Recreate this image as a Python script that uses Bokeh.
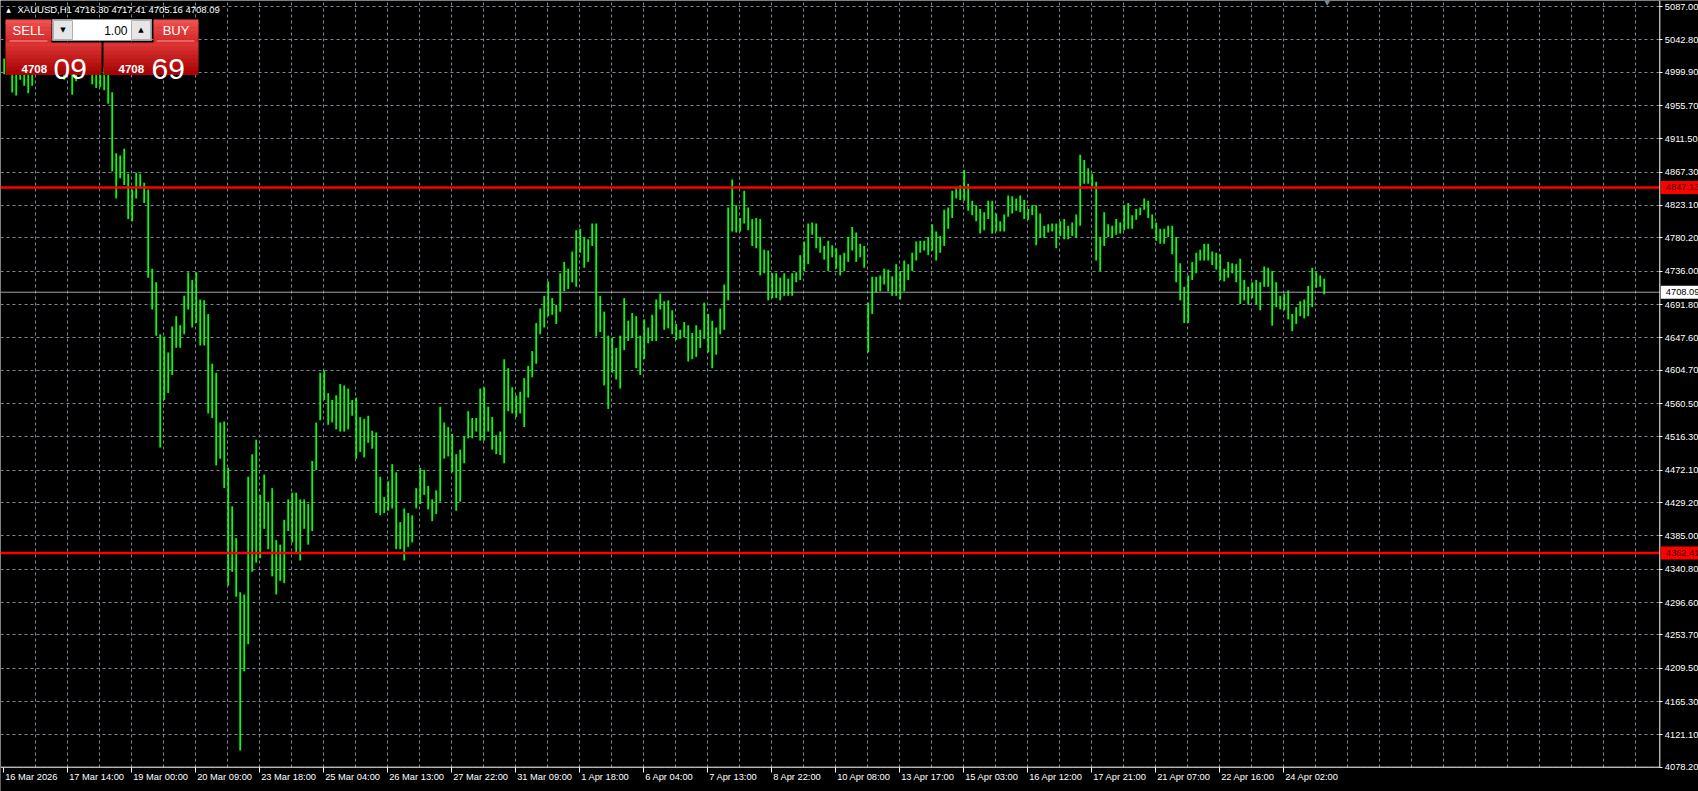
from bokeh.plotting import figure
from bokeh.models import (Range1d, FixedTicker, Label, BoxAnnotation, Grid, LinearAxis,
                          NumeralTickFormatter, ColumnDataSource)
from bokeh.embed import file_html
from bokeh.resources import INLINE

# ---------------- data ----------------
symbol = "XAUUSD,H1"
last_ohlc = ["4716.30", "4717.41", "4705.16", "4708.09"]
bid_big, bid_small = "09", "4708"
ask_big, ask_small = "69", "4708"
lot_size = "1.00"
current_price = 4708.09
resistance = 4847.13
support = 4362.41

time_labels = ["16 Mar 2026", "17 Mar 14:00", "19 Mar 00:00", "20 Mar 09:00", "23 Mar 18:00",
               "25 Mar 04:00", "26 Mar 13:00", "27 Mar 22:00", "31 Mar 09:00", "1 Apr 18:00",
               "6 Apr 04:00", "7 Apr 13:00", "8 Apr 22:00", "10 Apr 08:00", "13 Apr 17:00",
               "15 Apr 03:00", "16 Apr 12:00", "17 Apr 21:00", "21 Apr 07:00", "22 Apr 16:00",
               "24 Apr 02:00"]

price_ticks = [5087.00, 5042.80, 4999.90, 4955.70, 4911.50, 4867.30, 4823.10, 4780.20,
               4736.00, 4691.80, 4647.60, 4604.70, 4560.50, 4516.30, 4472.10, 4429.20,
               4385.00, 4340.80, 4296.60, 4253.70, 4209.50, 4165.30, 4121.10, 4078.20]

# H1 bars read in pairs (each entry = high / low of two consecutive hourly bars)
bar_high = [
    5018, 5020, 5015, 5012, 5016, 5018, 5010, 5015, 5022, 5025,
    5028, 5024, 5020, 5022, 5018, 5015, 5020, 5012, 5014, 5020,
    5018, 5016, 5012, 5010, 5008, 5006, 5000, 4973.3, 4892.3, 4889.3,
    4898.3, 4865.3, 4844.3, 4866.5, 4865.3, 4853.3, 4844.3, 4739.3, 4721.3, 4652.3,
    4649.3, 4628.3, 4662.5, 4676.3, 4664.3, 4703.3, 4734.5, 4724.3, 4734.5, 4698.5,
    4697.3, 4679.3, 4613.3, 4601.3, 4535.3, 4536.5, 4475.3, 4424.3, 4382.3, 4310.3,
    4307.3, 4463.3, 4493.3, 4512.5, 4439.3, 4466.3, 4430.3, 4448.3, 4379.3, 4373.3,
    4406.3, 4433.3, 4442.3, 4442.3, 4433.3, 4433.3, 4427.3, 4484.3, 4535.3, 4601.3,
    4604.3, 4574.3, 4565.3, 4571.3, 4586.3, 4584.5, 4580.3, 4565.3, 4568.3, 4542.5,
    4540.1, 4544.3, 4524.5, 4522.1, 4463.3, 4436.3, 4457.3, 4480.1, 4469.3, 4403.3,
    4421.3, 4415.3, 4412.3, 4448.3, 4475.3, 4472.3, 4451.3, 4433.3, 4445.3, 4556.3,
    4535.3, 4529.3, 4520.3, 4493.3, 4499.3, 4517.3, 4550.3, 4541.3, 4541.3, 4580.3,
    4582.1, 4556.3, 4542.5, 4518.5, 4523.3, 4619.3, 4607.3, 4582.1, 4571.3, 4576.1,
    4594.1, 4610.3, 4630.1, 4667.3, 4686.5, 4703.3, 4722.5, 4700.3, 4691.3, 4733.3,
    4748.3, 4739.3, 4762.1, 4790.3, 4792.1, 4781.3, 4778.3, 4799.3, 4799.3, 4703.3,
    4682.3, 4650.5, 4648.1, 4634.3, 4650.5, 4700.3, 4670.3, 4680.5, 4676.3, 4650.5,
    4672.1, 4661.3, 4678.1, 4698.5, 4706.3, 4696.1, 4697.3, 4684.1, 4666.1, 4658.3,
    4668.5, 4664.3, 4654.1, 4664.3, 4658.3, 4694.3, 4679.3, 4670.3, 4661.3, 4686.5,
    4718.3, 4820.3, 4857.5, 4823.3, 4806.5, 4842.5, 4820.3, 4805.3, 4806.5, 4805.3,
    4764.5, 4763.3, 4733.3, 4733.3, 4727.3, 4733.3, 4726.1, 4733.3, 4734.5, 4757.3,
    4775.3, 4799.3, 4800.5, 4799.3, 4781.3, 4769.3, 4776.5, 4770.5, 4766.3, 4757.3,
    4760.3, 4781.3, 4794.5, 4787.3, 4772.3, 4769.3, 4694.3, 4728.5, 4728.5, 4730.3,
    4739.3, 4738.1, 4729.1, 4745.3, 4736.3, 4750.1, 4745.3, 4760.3, 4775.3, 4776.5,
    4776.5, 4781.3, 4798.1, 4788.5, 4782.5, 4817.3, 4820.3, 4842.5, 4847.3, 4849.7,
    4870.1, 4852.1, 4829.3, 4823.3, 4818.5, 4814.3, 4829.3, 4829.3, 4812.5, 4802.3,
    4811.3, 4836.5, 4835.3, 4832.3, 4836.5, 4830.5, 4818.5, 4823.3, 4823.3, 4812.5,
    4796.3, 4798.1, 4799.3, 4799.3, 4802.3, 4805.3, 4796.3, 4800.5, 4811.3, 4890.5,
    4883.3, 4872.5, 4865.3, 4854.5, 4781.3, 4814.3, 4798.1, 4796.3, 4805.3, 4800.5,
    4823.3, 4826.3, 4810.1, 4818.5, 4820.3, 4832.3, 4829.3, 4811.3, 4800.5, 4792.1,
    4792.1, 4796.3, 4796.3, 4781.3, 4746.5, 4715.3, 4730.3, 4748.3, 4760.3, 4764.5,
    4772.3, 4772.3, 4762.1, 4760.3, 4758.5, 4739.3, 4748.3, 4746.5, 4745.3, 4752.5,
    4724.3, 4715.3, 4721.3, 4724.3, 4721.3, 4742.3, 4740.5, 4736.3, 4721.3, 4703.3,
    4706.3, 4710.5, 4679.3, 4688.3, 4696.1, 4698.5, 4716.5, 4740.5, 4734.5, 4730.3,
    4726.1,
]
bar_low = [
    4997, 5000, 4973, 4969, 4990, 4982, 4972, 4982, 4998, 5000,
    5002, 5000, 4998, 5000, 4996, 4990, 4997, 4970, 4988, 4998,
    4997, 4996, 4984, 4979, 4980, 4976, 4958, 4868.3, 4832.3, 4859.3,
    4850.3, 4805.3, 4802.3, 4832.3, 4847.3, 4826.3, 4727.3, 4685.3, 4650.5, 4502.3,
    4565.3, 4574.3, 4598.3, 4634.3, 4634.3, 4652.3, 4685.3, 4661.3, 4667.3, 4637.3,
    4637.3, 4547.3, 4541.3, 4478.3, 4487.3, 4448.3, 4319.3, 4337.3, 4304.3, 4100.3,
    4205.3, 4241.3, 4337.3, 4349.3, 4355.3, 4394.3, 4367.3, 4331.3, 4307.3, 4325.3,
    4322.3, 4391.3, 4376.3, 4361.3, 4352.3, 4394.3, 4373.3, 4391.3, 4472.3, 4538.3,
    4565.3, 4532.3, 4535.3, 4526.3, 4523.3, 4523.3, 4526.3, 4544.3, 4487.3, 4496.3,
    4489.1, 4508.3, 4500.5, 4415.3, 4412.3, 4415.3, 4418.3, 4421.3, 4367.3, 4367.3,
    4352.3, 4370.3, 4376.3, 4421.3, 4427.3, 4439.3, 4420.1, 4404.5, 4414.1, 4430.3,
    4487.3, 4490.3, 4469.3, 4418.3, 4430.3, 4481.3, 4514.3, 4514.3, 4523.3, 4511.3,
    4511.3, 4523.3, 4499.3, 4493.3, 4492.1, 4481.3, 4550.3, 4547.3, 4542.5, 4547.3,
    4529.3, 4568.3, 4595.3, 4613.3, 4652.3, 4661.3, 4676.3, 4678.1, 4666.1, 4682.3,
    4709.3, 4712.3, 4721.3, 4715.3, 4760.3, 4740.5, 4748.3, 4769.3, 4649.3, 4655.3,
    4584.5, 4553.3, 4601.3, 4592.3, 4580.3, 4631.3, 4643.3, 4648.1, 4607.3, 4598.3,
    4619.3, 4640.3, 4643.3, 4643.3, 4685.3, 4658.3, 4660.1, 4652.3, 4644.5, 4646.3,
    4648.1, 4616.3, 4619.3, 4622.3, 4634.3, 4646.3, 4628.3, 4607.3, 4625.3, 4652.3,
    4658.3, 4697.3, 4788.5, 4787.3, 4788.5, 4799.3, 4790.3, 4769.3, 4766.3, 4730.3,
    4733.3, 4697.3, 4700.3, 4700.3, 4697.3, 4703.3, 4703.3, 4703.3, 4721.3, 4724.3,
    4736.3, 4745.3, 4784.3, 4766.3, 4760.3, 4751.3, 4736.3, 4754.3, 4739.3, 4730.3,
    4736.3, 4748.3, 4763.3, 4748.3, 4754.3, 4740.5, 4628.3, 4679.3, 4708.1, 4709.3,
    4718.3, 4709.3, 4703.3, 4703.3, 4698.5, 4709.3, 4724.3, 4736.3, 4750.1, 4760.3,
    4763.3, 4757.3, 4763.3, 4750.1, 4760.3, 4769.3, 4792.1, 4806.5, 4832.3, 4830.5,
    4829.3, 4816.1, 4810.1, 4802.3, 4786.1, 4790.3, 4805.3, 4786.1, 4788.5, 4788.5,
    4788.5, 4808.3, 4812.5, 4816.1, 4814.3, 4805.3, 4804.1, 4810.1, 4770.5, 4780.1,
    4780.1, 4787.3, 4788.5, 4766.3, 4782.5, 4778.3, 4778.3, 4782.5, 4780.1, 4796.3,
    4852.1, 4852.1, 4848.5, 4750.1, 4736.3, 4769.3, 4781.3, 4780.1, 4784.3, 4786.1,
    4790.3, 4792.1, 4792.1, 4804.1, 4810.1, 4817.3, 4806.5, 4792.1, 4776.5, 4772.3,
    4772.3, 4781.3, 4758.5, 4721.3, 4697.3, 4667.3, 4667.3, 4724.3, 4733.3, 4750.1,
    4750.1, 4750.1, 4744.1, 4738.1, 4724.3, 4722.5, 4727.3, 4733.3, 4721.3, 4692.5,
    4697.3, 4691.3, 4700.3, 4691.3, 4684.1, 4715.3, 4715.3, 4663.7, 4688.3, 4685.3,
    4684.1, 4672.1, 4656.5, 4666.1, 4676.3, 4673.3, 4676.3, 4688.3, 4714.1, 4715.3,
    4705.2,
]

# ---------------- layout constants (pixels) ----------------
W, H = 1698, 791
PX_FIRST_BAR = 2.7       # canvas x of the first hourly bar
PX_PER_HOUR = 2.0
PX_BORDER_X = 1659.3     # canvas x of the right chart border
PX_TOP_TICK = 6.0        # canvas y of the top price tick
PX_BORDER_Y = 766.7      # canvas y of the bottom chart border
HOURS_PER_ENTRY = 2
HOURS_PER_LABEL = 32
HOURS_PER_GRID = 16
FONT = "Liberation Sans"
GRID = "#778899"
GREEN = "#00ff00"

# derived scales
kx = PX_PER_HOUR
x_start = -PX_FIRST_BAR / kx
x_end = x_start + W / kx
X_BORDER = x_start + PX_BORDER_X / kx
ky = (PX_BORDER_Y - PX_TOP_TICK) / (price_ticks[0] - price_ticks[-1])
y_end = price_ticks[0] + PX_TOP_TICK / ky
y_start = y_end - H / ky
Y_BORDER = y_end - PX_BORDER_Y / ky

n = len(bar_high)
xs = [HOURS_PER_ENTRY * i + 0.5 for i in range(n)]
src = ColumnDataSource(dict(x=xs, high=bar_high, low=bar_low))

p = figure(width=W, height=H, x_range=Range1d(x_start, x_end), y_range=Range1d(y_start, y_end),
           output_backend="svg", toolbar_location=None, x_axis_type=None, y_axis_type=None,
           min_border_left=0, min_border_top=0, min_border_bottom=0, min_border_right=0,
           background_fill_color="black", border_fill_color="black", outline_line_color=None)

# grid
label_ticks = [HOURS_PER_LABEL * k for k in range(len(time_labels))]
grid_ticks = [HOURS_PER_GRID * k for k in range(1, int(X_BORDER // HOURS_PER_GRID) + 1)]
for dim, ticks in ((0, grid_ticks), (1, price_ticks)):
    p.add_layout(Grid(dimension=dim, ticker=FixedTicker(ticks=ticks), grid_line_color=GRID,
                      grid_line_dash="3 3", grid_line_width=1))
# keep the scale strips free of grid lines
p.add_layout(BoxAnnotation(left=X_BORDER, right=x_end, bottom=y_start, top=y_end, level="underlay",
                           fill_color="black", fill_alpha=1, line_alpha=0))
p.add_layout(BoxAnnotation(left=x_start, right=x_end, bottom=y_start, top=Y_BORDER, level="underlay",
                           fill_color="black", fill_alpha=1, line_alpha=0))

# price axis on the right border
yax = LinearAxis(fixed_location=X_BORDER, ticker=FixedTicker(ticks=price_ticks),
                 formatter=NumeralTickFormatter(format="0.00"), bounds=(Y_BORDER, y_end),
                 axis_line_color=None, major_tick_out=3, major_tick_in=0,
                 minor_tick_out=0, minor_tick_in=0, major_tick_line_color="white",
                 major_label_text_color="white", major_label_text_font=FONT,
                 major_label_text_font_size="9.3px", major_label_standoff=2)
p.add_layout(yax, "right")

# time axis (tick marks) on the bottom border
xax = LinearAxis(fixed_location=Y_BORDER, ticker=FixedTicker(ticks=label_ticks),
                 bounds=(x_start, X_BORDER), axis_line_color=None, major_tick_out=5,
                 major_tick_in=0, minor_tick_out=0, minor_tick_in=0,
                 major_tick_line_color="white", major_label_overrides={t: "" for t in label_ticks})
p.add_layout(xax, "below")

# bars
p.segment(x0="x", y0="low", x1="x", y1="high", source=src, line_color=GREEN, line_width=1.8)

# horizontal levels
p.segment(x0=[x_start], y0=[current_price], x1=[X_BORDER], y1=[current_price],
          line_color="#a0a4a8", line_width=1)
p.segment(x0=[x_start, x_start], y0=[resistance, support], x1=[X_BORDER, X_BORDER],
          y1=[resistance, support], line_color="#ff0000", line_width=2.5)

# chart border (right and bottom)
p.segment(x0=[X_BORDER, x_start], y0=[Y_BORDER, Y_BORDER], x1=[X_BORDER, X_BORDER],
          y1=[y_end, Y_BORDER], line_color="white", line_width=1)

# price tags in the scale
half = 6.5 / ky
for lvl, bg, fg in ((resistance, "#ff0000", "#3a0000"), (support, "#ff0000", "#3a0000"),
                    (current_price, "#ffffff", "#000000")):
    p.add_layout(BoxAnnotation(left=X_BORDER + 1 / kx, right=x_end, bottom=lvl - half, top=lvl + half,
                               fill_color=bg, fill_alpha=1, line_alpha=0))
    p.add_layout(Label(x=X_BORDER + 6 / kx, y=lvl, text=f"{lvl:.2f}", text_font=FONT,
                       text_font_size="9.3px", text_color=fg, text_baseline="middle",
                       text_align="left"))

# time labels, left aligned at their tick
for t, s in zip(label_ticks, time_labels):
    p.add_layout(Label(x=t + 2 / kx, y=Y_BORDER - 4.5 / ky, text=s, text_font=FONT,
                       text_font_size="9.3px", text_color="white", text_align="left",
                       text_baseline="top"))

# chart shift marker at the top
p.scatter(x=[HOURS_PER_ENTRY * n], y=[y_end], marker="inverted_triangle", size=9,
          fill_color=GRID, line_color=None)


# ---------------- title and one-click trading panel (screen pixels from top-left) ----------------
def box(x0, y0, x1, y1, color, line=None):
    p.add_layout(BoxAnnotation(left=x0, right=x1, top=H - y0, bottom=H - y1,
                               left_units="screen", right_units="screen",
                               top_units="screen", bottom_units="screen",
                               fill_color=color, fill_alpha=1.0,
                               line_color=line, line_alpha=1.0 if line else 0.0))


def mix(c1, c2, t):
    a = [int(c1[i:i + 2], 16) for i in (1, 3, 5)]
    b = [int(c2[i:i + 2], 16) for i in (1, 3, 5)]
    return "#" + "".join(f"{round(u + (v - u) * t):02x}" for u, v in zip(a, b))


def grad(x0, y0, x1, y1, c_top, c_bot, steps):
    h = (y1 - y0) / steps
    for i in range(steps):
        box(x0, y0 + i * h, x1, y0 + (i + 1) * h + 0.6, mix(c_top, c_bot, i / (steps - 1)))


def txt(x, y, s, size, color="white", align="left", bold=False, font=FONT, base="alphabetic"):
    p.add_layout(Label(x=x, y=H - y, x_units="screen", y_units="screen", text=s,
                       text_font=font, text_font_size=size, text_color=color,
                       text_align=align, text_baseline=base,
                       text_font_style="bold" if bold else "normal"))


txt(8, 9, "▲", "6px", font="DejaVu Sans", align="center", base="middle")
txt(17, 8.5, symbol + "  " + " ".join(last_ohlc), "9.5px", base="middle")

for xa, xb in ((5, 51), (153, 198)):
    grad(xa, 19, xb, 42, "#f05050", "#d42a2a", 6)
for xa, xb in ((5, 101), (103, 198)):
    grad(xa, 42, xb, 74, "#dc3434", "#a80404", 8)
box(9, 40, 47, 41, "#f4a0a0")
box(156, 40, 194, 41, "#f4a0a0")

box(52, 19, 151, 40, "#ffffff", "#9a9a9a")
box(53, 20, 72, 39, "#e6e6e6", "#b0b0b0")
box(131, 20, 150, 39, "#e6e6e6", "#b0b0b0")

txt(28, 30, "SELL", "13px", align="center", base="middle")
txt(175.5, 30, "BUY", "13px", align="center", base="middle")
txt(62.5, 29.5, "▼", "7px", color="black", align="center", font="DejaVu Sans", base="middle")
txt(140.5, 29.5, "▲", "7px", color="black", align="center", font="DejaVu Sans", base="middle")
txt(127, 30, lot_size, "12px", color="black", align="right", base="middle")
txt(21, 68, bid_small, "11.5px", bold=True)
txt(53, 68, bid_big, "30px")
txt(118, 68, ask_small, "11.5px", bold=True)
txt(151, 68, ask_big, "30px")

open("out.html", "w").write(file_html(p, INLINE))
